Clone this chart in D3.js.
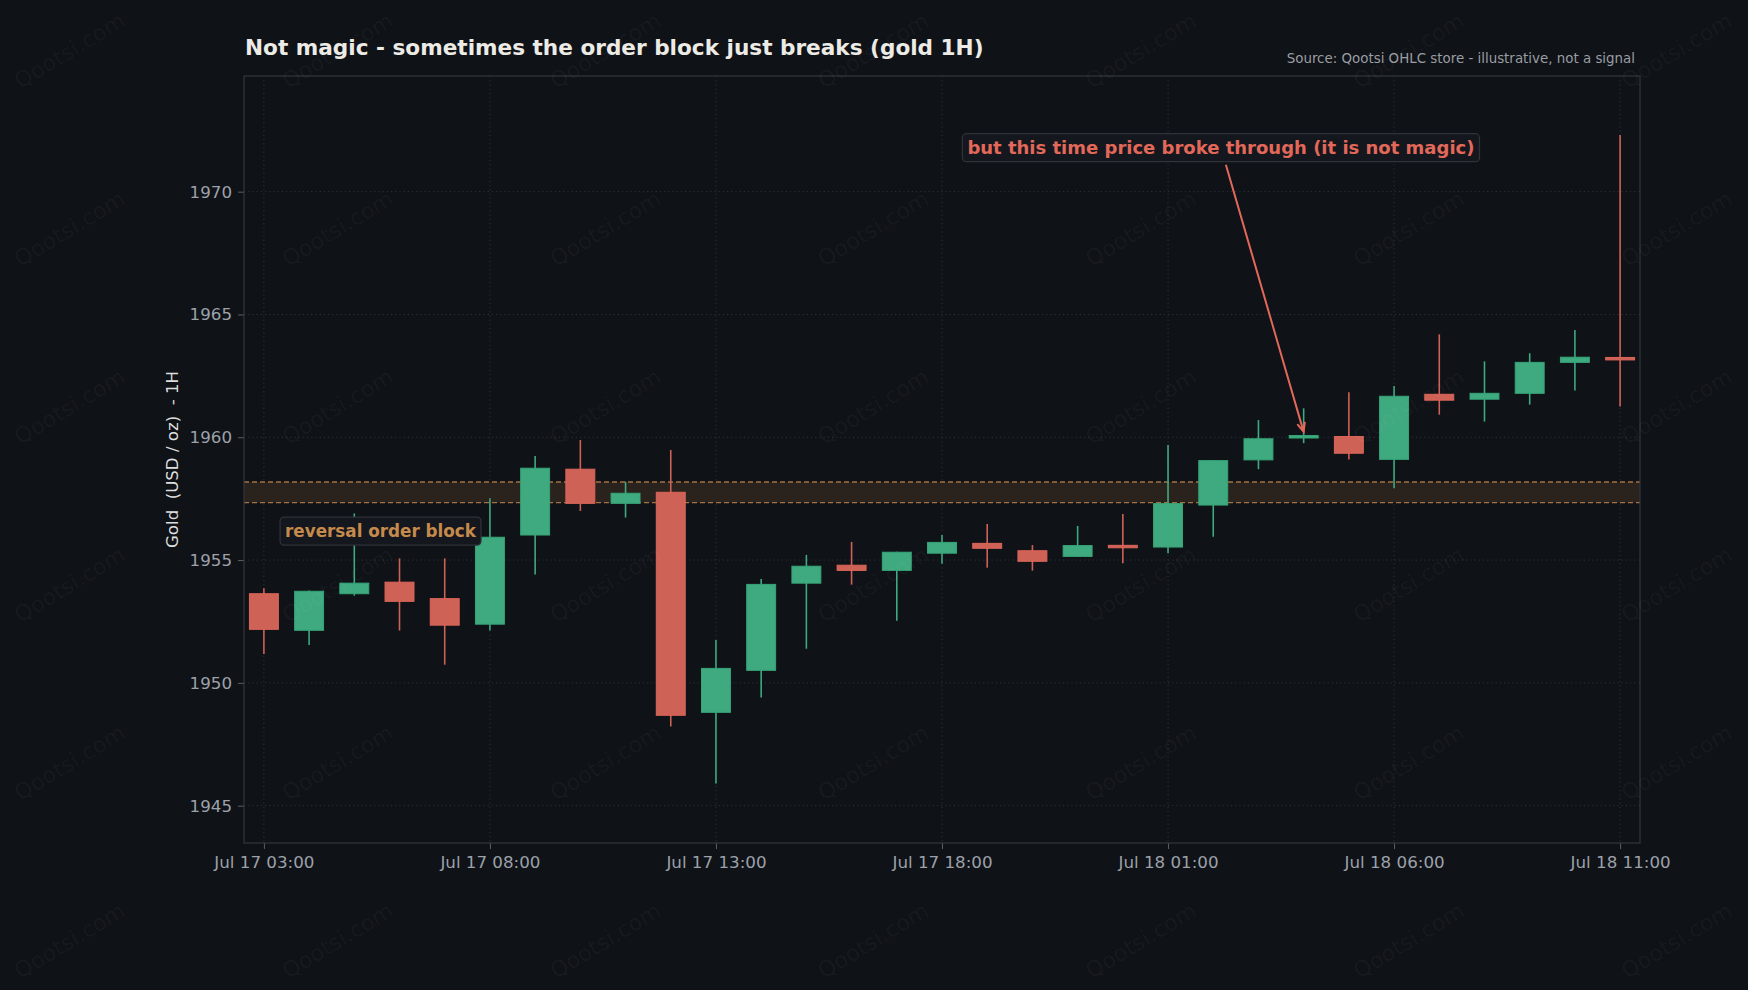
<!DOCTYPE html>
<html>
<head>
<meta charset="utf-8">
<script src="https://cdn.jsdelivr.net/npm/d3@7"></script>
<style>
  html, body { margin: 0; padding: 0; background: #0f1217; }
  svg { display: block; font-family: "DejaVu Sans", sans-serif; }
</style>
</head>
<body>
<svg id="chart"></svg>
<script>
// candle times (hourly, gap overnight)
const times = [
  "Jul 17 03:00", "Jul 17 04:00", "Jul 17 05:00", "Jul 17 06:00", "Jul 17 07:00",
  "Jul 17 08:00", "Jul 17 09:00", "Jul 17 10:00", "Jul 17 11:00", "Jul 17 12:00",
  "Jul 17 13:00", "Jul 17 14:00", "Jul 17 15:00", "Jul 17 16:00", "Jul 17 17:00",
  "Jul 17 18:00", "Jul 17 21:00", "Jul 17 22:00", "Jul 17 23:00", "Jul 18 00:00",
  "Jul 18 01:00", "Jul 18 02:00", "Jul 18 03:00", "Jul 18 04:00", "Jul 18 05:00",
  "Jul 18 06:00", "Jul 18 07:00", "Jul 18 08:00", "Jul 18 09:00", "Jul 18 10:00",
  "Jul 18 11:00"
]
const opens  = [1953.63, 1952.14, 1953.63, 1954.10, 1953.43, 1952.39, 1956.02, 1958.70, 1957.31, 1957.76,
                1948.80, 1950.51, 1954.06, 1954.79, 1954.58, 1955.28, 1955.68, 1955.38, 1955.15, 1955.60,
                1955.53, 1957.24, 1959.08, 1959.97, 1960.03, 1959.10, 1961.75, 1961.55, 1961.79, 1963.05,
                1963.25]
const highs  = [1953.85, 1953.76, 1956.90, 1955.07, 1955.07, 1957.52, 1959.24, 1959.89, 1958.19, 1959.48,
                1951.75, 1954.23, 1955.21, 1955.74, 1955.34, 1956.02, 1956.47, 1955.61, 1956.39, 1956.88,
                1959.69, 1959.07, 1960.70, 1961.18, 1961.83, 1962.09, 1964.19, 1963.09, 1963.42, 1964.37,
                1972.31]
const lows   = [1951.18, 1951.54, 1953.55, 1952.13, 1950.74, 1952.13, 1954.41, 1957.00, 1956.73, 1948.22,
                1945.90, 1949.40, 1951.39, 1954.00, 1952.53, 1954.85, 1954.69, 1954.57, 1955.13, 1954.87,
                1955.28, 1955.95, 1958.70, 1959.76, 1959.10, 1957.92, 1960.92, 1960.64, 1961.33, 1961.90,
                1961.25]
const closes = [1952.18, 1953.73, 1954.06, 1953.32, 1952.35, 1955.93, 1958.74, 1957.31, 1957.72, 1948.68,
                1950.59, 1954.01, 1954.75, 1954.58, 1955.32, 1955.72, 1955.48, 1954.95, 1955.59, 1955.50,
                1957.30, 1959.05, 1959.94, 1960.07, 1959.35, 1961.67, 1961.51, 1961.79, 1963.05, 1963.26,
                1963.15]

const yTicks = [1945, 1950, 1955, 1960, 1965, 1970]
const xTicks = [0, 5, 10, 15, 20, 25, 30]

// order block zone and annotations
const zoneLow = 1957.34, zoneHigh = 1958.18
const zoneLabel = { text: "reversal order block", i: 2.58, v: 1956.18 }
const breakNote = { text: "but this time price broke through (it is not magic)", i: 21.17, v: 1971.79, tipI: 23, tipV: 1960.22 }

const title = "Not magic - sometimes the order block just breaks (gold 1H)"
const source = "Source: Qootsi OHLC store - illustrative, not a signal"
const yLabel = "Gold  (USD / oz)  - 1H"

const width = 1748, height = 990
const margin = { top: 76, right: 108, bottom: 147, left: 244 }
const iw = width - margin.left - margin.right
const ih = height - margin.top - margin.bottom

const green = "#3fa97f", greenEdge = "#36a577"
const red = "#cf6256", redEdge = "#dc665a"

const candles = times.map((t, i) => ({ i, t, o: opens[i], h: highs[i], l: lows[i], c: closes[i] }))

const svg = d3.select("#chart").attr("width", width).attr("height", height)

svg.append("rect").attr("width", width).attr("height", height).attr("fill", "#0f1217")

const x = d3.scaleLinear().domain([-0.44, 30.44]).range([0, iw])
const y = d3.scaleLinear().domain([1943.48, 1974.71]).range([ih, 0])

const g = svg.append("g").attr("transform", `translate(${margin.left},${margin.top})`)

// grid
g.append("g").selectAll("line").data(yTicks).enter().append("line")
    .attr("x1", 0).attr("x2", iw)
    .attr("y1", d => y(d)).attr("y2", d => y(d))
    .attr("stroke", "#2f333b").attr("stroke-width", 1).attr("stroke-dasharray", "1.2,3")
g.append("g").selectAll("line").data(xTicks).enter().append("line")
    .attr("x1", d => x(d)).attr("x2", d => x(d))
    .attr("y1", 0).attr("y2", ih)
    .attr("stroke", "#2f333b").attr("stroke-width", 1).attr("stroke-dasharray", "1.2,3")

// order block zone
g.append("rect")
    .attr("x", 0).attr("width", iw)
    .attr("y", y(zoneHigh)).attr("height", y(zoneLow) - y(zoneHigh))
    .attr("fill", "#2a221d")
g.append("g").selectAll("line").data([zoneLow, zoneHigh]).enter().append("line")
    .attr("x1", 0).attr("x2", iw)
    .attr("y1", d => y(d)).attr("y2", d => y(d))
    .attr("stroke", "#a47244").attr("stroke-width", 1.4).attr("stroke-dasharray", "5,3")

// candles
const bodyW = x(0.64) - x(0)
const cg = g.append("g").selectAll("g").data(candles).enter().append("g")
cg.append("line")
    .attr("x1", d => x(d.i)).attr("x2", d => x(d.i))
    .attr("y1", d => y(d.h)).attr("y2", d => y(d.l))
    .attr("stroke", d => d.c >= d.o ? green : red).attr("stroke-width", 1.6)
cg.append("rect")
    .attr("x", d => x(d.i) - bodyW / 2).attr("width", bodyW)
    .attr("y", d => y(Math.max(d.o, d.c)))
    .attr("height", d => Math.max(1, Math.abs(y(d.o) - y(d.c))))
    .attr("fill", d => d.c >= d.o ? green : red)
    .attr("stroke", d => d.c >= d.o ? greenEdge : redEdge).attr("stroke-width", 1)

// axes
const yAxis = g.append("g").call(d3.axisLeft(y).tickValues(yTicks).tickSize(6).tickPadding(6).tickFormat(d3.format("d")))
const xAxis = g.append("g").attr("transform", `translate(0,${ih})`)
    .call(d3.axisBottom(x).tickValues(xTicks).tickSize(6).tickPadding(7).tickFormat(d => times[d]))
for (const ax of [yAxis, xAxis]) {
    ax.select(".domain").remove()
    ax.selectAll(".tick line").attr("stroke", "#5a5f68")
    ax.selectAll(".tick text").attr("fill", "#9ca1aa").style("font-size", "16.7px").style("font-family", "DejaVu Sans")
}

// frame
g.append("rect").attr("width", iw).attr("height", ih)
    .attr("fill", "none").attr("stroke", "#33373f").attr("stroke-width", 1.2)

// label boxes
function labelBox(text, cx, cy, colour, size) {
    const lg = g.append("g")
    const box = lg.append("rect")
    const t = lg.append("text").attr("x", cx).attr("y", cy).attr("dy", "0.36em")
        .attr("text-anchor", "middle").attr("fill", colour)
        .style("font-size", size + "px").style("font-weight", "bold").text(text)
    const w = t.node().getComputedTextLength()
    const bw = w + 10, bh = 28
    box.attr("x", cx - bw / 2).attr("y", cy - bh / 2).attr("width", bw).attr("height", bh)
        .attr("rx", 4).attr("fill", "#14171d").attr("stroke", "#2e3239").attr("stroke-width", 1.3)
    return { x0: cx - bw / 2, x1: cx + bw / 2, y0: cy - bh / 2, y1: cy + bh / 2 }
}

labelBox(zoneLabel.text, x(zoneLabel.i), y(zoneLabel.v), "#c68a4c", 16.8)
const nb = labelBox(breakNote.text, x(breakNote.i), y(breakNote.v), "#e2685a", 18)

// arrow from note box to candle
const cx = x(breakNote.i), cy = y(breakNote.v)
const tx = x(breakNote.tipI), ty = y(breakNote.tipV)
const k = (nb.y1 + 3 - cy) / (ty - cy)
const sx = cx + (tx - cx) * k, sy = nb.y1 + 3
const ang = Math.atan2(ty - sy, tx - sx)
const hl = 10, ha = 0.4
g.append("path")
    .attr("d", `M${sx},${sy}L${tx},${ty}` +
        `M${tx - hl * Math.cos(ang - ha)},${ty - hl * Math.sin(ang - ha)}L${tx},${ty}` +
        `L${tx - hl * Math.cos(ang + ha)},${ty - hl * Math.sin(ang + ha)}`)
    .attr("fill", "none").attr("stroke", "#e2685a").attr("stroke-width", 2)

// y label
svg.append("text")
    .attr("transform", `translate(178,${margin.top + ih / 2}) rotate(-90)`)
    .attr("text-anchor", "middle").attr("fill", "#dedede")
    .style("font-size", "16.6px").style("white-space", "pre").text(yLabel)

// title and source
svg.append("text").attr("x", margin.left + 1).attr("y", 54.5)
    .attr("fill", "#ecebe6").style("font-size", "21.6px").style("font-weight", "bold").text(title)
svg.append("text").attr("x", 1635).attr("y", 63).attr("text-anchor", "end")
    .attr("fill", "#9a9da3").style("font-size", "13.4px").text(source)

// watermark
const wmX = d3.range(7).map(k => 69.7 + k * 267.8)
const wmY = d3.range(6).map(k => 50.5 + k * 178)
svg.append("g").selectAll("text").data(d3.cross(wmX, wmY)).enter().append("text")
    .attr("transform", d => `translate(${d[0]},${d[1]}) rotate(-31)`)
    .attr("text-anchor", "middle").attr("dy", "0.35em")
    .attr("fill", "#ffffff").attr("fill-opacity", 0.04)
    .style("font-size", "22px").text("Qootsi.com")
</script>
</body>
</html>
